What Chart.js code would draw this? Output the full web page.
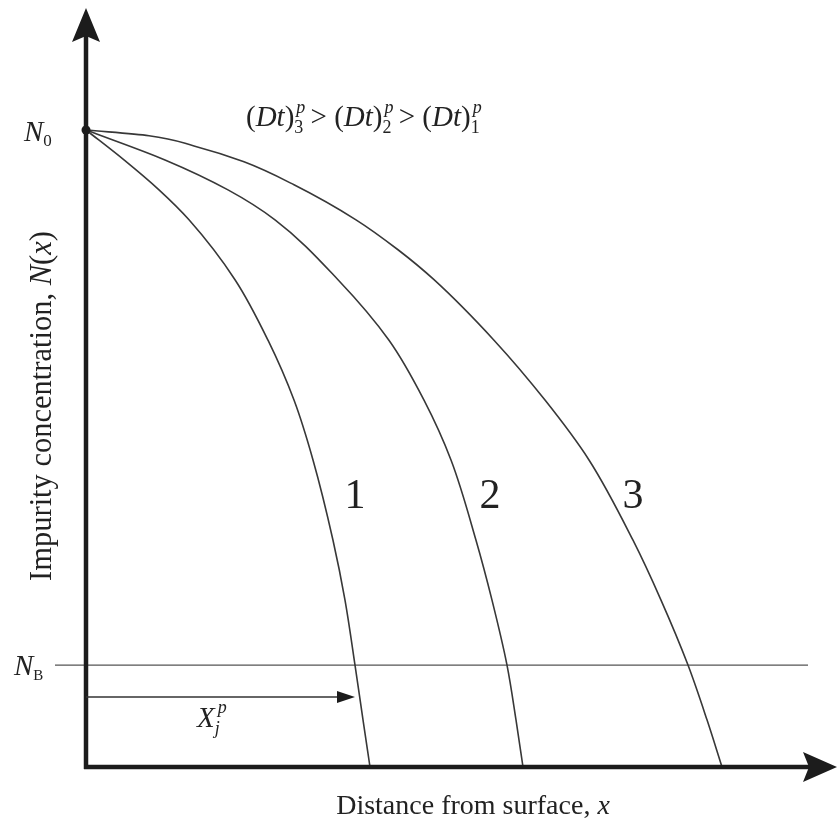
<!DOCTYPE html>
<html>
<head>
<meta charset="utf-8">
<script src="https://cdn.jsdelivr.net/npm/chart.js@4"></script>
<style>
  html, body { margin: 0; padding: 0; background: #ffffff; }
  #wrap { width: 838px; height: 821px; position: relative; }
</style>
</head>
<body>
<div id="wrap"><canvas id="c" width="838" height="821"></canvas></div>
<script>
// Diffusion profiles N(x)/N0 against depth x (arbitrary depth units)
const depth1 = [0, 0.38, 0.73, 1.03, 1.49, 1.82, 2.08, 2.27, 2.47, 2.59, 2.69, 2.77, 2.84];
const conc1  = [1, 0.953, 0.906, 0.859, 0.765, 0.670, 0.576, 0.482, 0.356, 0.262, 0.160, 0.074, 0];

const depth2 = [0, 0.79, 1.42, 1.89, 2.52, 3.03, 3.38, 3.65, 3.90, 4.06, 4.21, 4.30, 4.37];
const conc2  = [1, 0.953, 0.906, 0.859, 0.765, 0.670, 0.576, 0.482, 0.356, 0.262, 0.160, 0.074, 0];

const depth3 = [0, 0.63, 1.08, 1.58, 2.08, 2.70, 3.12, 3.48, 4.08, 4.59, 5.03, 5.47, 5.75, 6.02, 6.21, 6.36];
const conc3  = [1, 0.991, 0.975, 0.950, 0.914, 0.859, 0.812, 0.765, 0.670, 0.576, 0.482, 0.356, 0.262, 0.160, 0.074, 0];

// Surface and background concentration levels
const surfaceConc = 1;
const backgroundConc = 0.16;
const nbLineStart = -0.31;
const nbLineEnd = 7.22;

// Junction depth of profile 1 (where it meets N_B)
const junctionDepth = 2.69;
const junctionArrowLevel = 0.110;

// Curve numbers and where they sit
const curveNames = ['1', '2', '3'];
const curveNameX = [2.69, 4.04, 5.47];
const curveNameY = [0.43, 0.43, 0.43];

const X_MAX = 7, Y_MAX = 1;

function pairs(xs, ys) { return xs.map((x, i) => ({ x: x, y: ys[i] })); }

const SERIF = '"Liberation Serif", "DejaVu Serif", "Times New Roman", serif';
function fontFor(size, italic) { return (italic ? 'italic ' : '') + size + 'px ' + SERIF; }

function partWidth(ctx, p) {
  if (p.stack) {
    ctx.font = fontFor(p.size, p.supItalic);
    const a = ctx.measureText(p.sup).width;
    ctx.font = fontFor(p.size, p.subItalic);
    const b = ctx.measureText(p.sub).width;
    return Math.max(a, b) + (p.gap || 0);
  }
  ctx.font = fontFor(p.size, p.italic);
  return ctx.measureText(p.t).width + (p.gap || 0);
}

function drawRich(ctx, x, y, parts, align) {
  const w = parts.reduce((s, p) => s + partWidth(ctx, p), 0);
  let cx = align === 'center' ? x - w / 2 : x;
  ctx.textAlign = 'left';
  ctx.textBaseline = 'alphabetic';
  for (const p of parts) {
    if (p.stack) {
      ctx.font = fontFor(p.size, p.supItalic);
      ctx.fillText(p.sup, cx + (p.supShift || 0), y + p.supDy);
      ctx.font = fontFor(p.size, p.subItalic);
      ctx.fillText(p.sub, cx, y + p.subDy);
    } else {
      ctx.font = fontFor(p.size, p.italic);
      ctx.fillText(p.t, cx, y + (p.dy || 0));
    }
    cx += partWidth(ctx, p);
  }
}

function dtGroup(n) {
  return [
    { t: '(', size: 29 },
    { t: 'D', size: 29, italic: true },
    { t: 't', size: 29, italic: true },
    { t: ')', size: 29 },
    { stack: true, sup: 'p', sub: String(n), size: 18, supItalic: true, subItalic: false, supDy: -13, subDy: 7, supShift: 2 }
  ];
}

const axesAndNotes = {
  id: 'axesAndNotes',
  afterDatasetsDraw(chart) {
    const ctx = chart.ctx;
    const xs = chart.scales.x, ys = chart.scales.y;
    const x0 = xs.getPixelForValue(0);
    const y0 = ys.getPixelForValue(0);
    const ink = '#1c1c1c';
    ctx.save();

    // vertical axis with arrow
    ctx.strokeStyle = ink; ctx.fillStyle = ink;
    ctx.lineWidth = 4.5;
    ctx.beginPath(); ctx.moveTo(x0, y0 + 2); ctx.lineTo(x0, 36); ctx.stroke();
    ctx.beginPath();
    ctx.moveTo(x0, 8); ctx.lineTo(x0 + 14, 42); ctx.lineTo(x0, 36); ctx.lineTo(x0 - 14, 42); ctx.closePath(); ctx.fill();

    // horizontal axis with arrow
    ctx.beginPath(); ctx.moveTo(x0 - 2, y0); ctx.lineTo(810, y0); ctx.stroke();
    ctx.beginPath();
    ctx.moveTo(837, y0); ctx.lineTo(803, y0 - 15); ctx.lineTo(809, y0); ctx.lineTo(803, y0 + 15); ctx.closePath(); ctx.fill();

    // surface point
    const yN0 = ys.getPixelForValue(surfaceConc);
    ctx.beginPath(); ctx.arc(x0, yN0, 4.5, 0, Math.PI * 2); ctx.fill();

    // junction depth arrow
    const yj = ys.getPixelForValue(junctionArrowLevel);
    const xj = xs.getPixelForValue(junctionDepth);
    ctx.strokeStyle = '#333'; ctx.fillStyle = '#1c1c1c';
    ctx.lineWidth = 1.5;
    ctx.beginPath(); ctx.moveTo(x0, yj); ctx.lineTo(xj - 14, yj); ctx.stroke();
    ctx.beginPath(); ctx.moveTo(xj, yj); ctx.lineTo(xj - 18, yj - 6); ctx.lineTo(xj - 18, yj + 6); ctx.closePath(); ctx.fill();

    // texts
    ctx.fillStyle = '#222';
    drawRich(ctx, 24, yN0 + 11, [
      { t: 'N', size: 29, italic: true },
      { t: '0', size: 17, dy: 5 }
    ], 'left');
    const yNB = ys.getPixelForValue(backgroundConc);
    drawRich(ctx, 14, yNB + 10, [
      { t: 'N', size: 29, italic: true },
      { t: 'B', size: 15, dy: 5 }
    ], 'left');

    const relation = []
      .concat(dtGroup(3), [{ t: ' > ', size: 29 }])
      .concat(dtGroup(2), [{ t: ' > ', size: 29 }])
      .concat(dtGroup(1));
    drawRich(ctx, 246, 126, relation, 'left');

    drawRich(ctx, 197, yj + 30, [
      { t: 'X', size: 29, italic: true },
      { stack: true, sup: 'p', sub: 'j', size: 18, supItalic: true, subItalic: true, supDy: -14, subDy: 7, supShift: 3 }
    ], 'left');

    ctx.font = fontFor(42, false);
    ctx.textAlign = 'center'; ctx.textBaseline = 'alphabetic';
    curveNames.forEach((name, i) => {
      ctx.fillText(name, xs.getPixelForValue(curveNameX[i]), ys.getPixelForValue(curveNameY[i]) + 15);
    });

    drawRich(ctx, 473, 814, [
      { t: 'Distance from surface, ', size: 28 },
      { t: 'x', size: 28, italic: true }
    ], 'center');

    ctx.save();
    ctx.translate(51, 406);
    ctx.rotate(-Math.PI / 2);
    drawRich(ctx, 0, 0, [
      { t: 'Impurity concentration, ', size: 30.5 },
      { t: 'N', size: 30.5, italic: true },
      { t: '(', size: 30.5 },
      { t: 'x', size: 30.5, italic: true },
      { t: ')', size: 30.5 }
    ], 'center');
    ctx.restore();

    ctx.restore();
  }
};

// Profiles are smooth in depth as a function of concentration, so the
// monotone spline runs along the vertical axis.
const curveStyle = {
  borderColor: '#383838',
  borderWidth: 1.6,
  pointRadius: 0,
  fill: false,
  cubicInterpolationMode: 'monotone',
  indexAxis: 'y',
  capBezierPoints: false,
  clip: false
};

new Chart(document.getElementById('c'), {
  type: 'scatter',
  data: {
    datasets: [
      Object.assign({ label: 'profile 1', data: pairs(depth1, conc1), showLine: true }, curveStyle),
      Object.assign({ label: 'profile 2', data: pairs(depth2, conc2), showLine: true }, curveStyle),
      Object.assign({ label: 'profile 3', data: pairs(depth3, conc3), showLine: true }, curveStyle),
      {
        label: 'N_B',
        data: [{ x: nbLineStart, y: backgroundConc }, { x: nbLineEnd, y: backgroundConc }],
        showLine: true, borderColor: '#555', borderWidth: 1.4, pointRadius: 0, clip: false
      }
    ]
  },
  options: {
    responsive: false,
    animation: false,
    devicePixelRatio: 1,
    layout: { padding: { left: 86, right: 52, top: 130, bottom: 54 } },
    scales: {
      x: { type: 'linear', min: 0, max: X_MAX, display: false },
      y: { type: 'linear', min: 0, max: Y_MAX, display: false }
    },
    plugins: { legend: { display: false }, tooltip: { enabled: false } },
    events: []
  },
  plugins: [axesAndNotes]
});
</script>
</body>
</html>
